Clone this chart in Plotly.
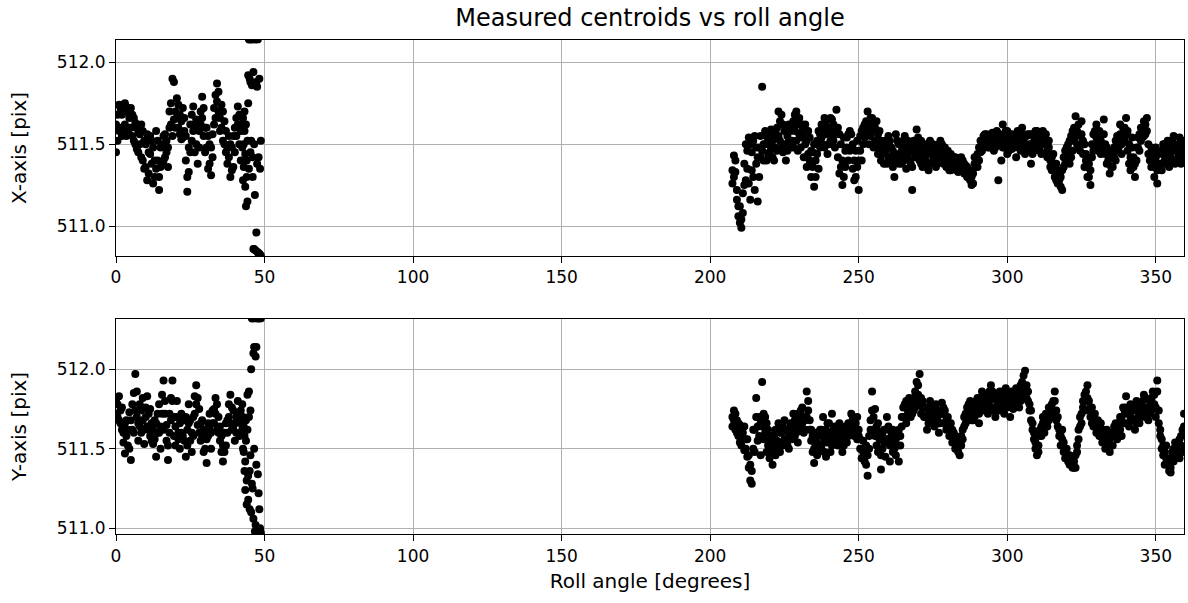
import plotly.graph_objects as go

# Roll angles [degrees] – first visit (0-49 deg)
roll_a = [
    0.0, 0.5, 1.0, 1.5, 2.0, 2.5, 3.0, 3.5, 4.0, 4.5,
    5.0, 5.5, 6.0, 6.5, 7.0, 7.5, 8.0, 8.5, 9.0, 9.5,
    10.0, 10.5, 11.0, 11.5, 12.0, 12.5, 13.0, 13.5, 14.0, 14.5,
    15.0, 15.5, 16.0, 16.5, 17.0, 17.5, 18.0, 18.5, 19.0, 19.5,
    20.0, 20.5, 21.0, 21.5, 22.0, 22.5, 23.0, 23.5, 24.0, 24.5,
    25.0, 25.5, 26.0, 26.5, 27.0, 27.5, 28.0, 28.5, 29.0, 29.5,
    30.0, 30.5, 31.0, 31.5, 32.0, 32.5, 33.0, 33.5, 34.0, 34.5,
    35.0, 35.5, 36.0, 36.5, 37.0, 37.5, 38.0, 38.5, 39.0, 39.5,
    40.0, 40.5, 41.0, 41.5, 42.0,
    42.5, 42.75, 43.0, 43.25, 43.5, 43.75, 44.0, 44.25, 44.5, 44.75,
    45.0, 45.25, 45.5, 45.75, 46.0, 46.25, 46.5, 46.75, 47.0, 47.25,
    47.5, 47.75, 48.0, 48.25, 48.5, 48.75,
]

# Roll angles [degrees] – second visit (207-360 deg)
roll_b = [
    207.5, 208.0, 208.5, 209.0, 209.5, 210.0, 210.5, 211.0, 211.5, 212.0,
    212.5, 213.0, 213.5, 214.0, 214.5, 215.0, 215.5, 216.0, 216.5, 217.0,
    217.5, 218.0, 218.5, 219.0, 219.5, 220.0, 220.5, 221.0, 221.5, 222.0,
    222.5, 223.0, 223.5, 224.0, 224.5, 225.0, 225.5, 226.0, 226.5, 227.0,
    227.5, 228.0, 228.5, 229.0, 229.5, 230.0, 230.5, 231.0, 231.5, 232.0,
    232.5, 233.0, 233.5, 234.0, 234.5, 235.0, 235.5, 236.0, 236.5, 237.0,
    237.5, 238.0, 238.5, 239.0, 239.5, 240.0, 240.5, 241.0, 241.5, 242.0,
    242.5, 243.0, 243.5, 244.0, 244.5, 245.0, 245.5, 246.0, 246.5, 247.0,
    247.5, 248.0, 248.5, 249.0, 249.5, 250.0, 250.5, 251.0, 251.5, 252.0,
    252.5, 253.0, 253.5, 254.0, 254.5, 255.0, 255.5, 256.0, 256.5, 257.0,
    257.5, 258.0, 258.5, 259.0, 259.5, 260.0, 260.5, 261.0, 261.5, 262.0,
    262.5, 263.0, 263.5, 264.0, 264.5, 265.0, 265.5, 266.0, 266.5, 267.0,
    267.5, 268.0, 268.5, 269.0, 269.5, 270.0, 270.5, 271.0, 271.5, 272.0,
    272.5, 273.0, 273.5, 274.0, 274.5, 275.0, 275.5, 276.0, 276.5, 277.0,
    277.5, 278.0, 278.5, 279.0, 279.5, 280.0, 280.5, 281.0, 281.5, 282.0,
    282.5, 283.0, 283.5, 284.0, 284.5, 285.0, 285.5, 286.0, 286.5, 287.0,
    287.5, 288.0, 288.5, 289.0, 289.5, 290.0, 290.5, 291.0, 291.5, 292.0,
    292.5, 293.0, 293.5, 294.0, 294.5, 295.0, 295.5, 296.0, 296.5, 297.0,
    297.5, 298.0, 298.5, 299.0, 299.5, 300.0, 300.5, 301.0, 301.5, 302.0,
    302.5, 303.0, 303.5, 304.0, 304.5, 305.0, 305.5, 306.0, 306.5, 307.0,
    307.5, 308.0, 308.5, 309.0, 309.5, 310.0, 310.5, 311.0, 311.5, 312.0,
    312.5, 313.0, 313.5, 314.0, 314.5, 315.0, 315.5, 316.0, 316.5, 317.0,
    317.5, 318.0, 318.5, 319.0, 319.5, 320.0, 320.5, 321.0, 321.5, 322.0,
    322.5, 323.0, 323.5, 324.0, 324.5, 325.0, 325.5, 326.0, 326.5, 327.0,
    327.5, 328.0, 328.5, 329.0, 329.5, 330.0, 330.5, 331.0, 331.5, 332.0,
    332.5, 333.0, 333.5, 334.0, 334.5, 335.0, 335.5, 336.0, 336.5, 337.0,
    337.5, 338.0, 338.5, 339.0, 339.5, 340.0, 340.5, 341.0, 341.5, 342.0,
    342.5, 343.0, 343.5, 344.0, 344.5, 345.0, 345.5, 346.0, 346.5, 347.0,
    347.5, 348.0, 348.5, 349.0, 349.5, 350.0, 350.5, 351.0, 351.5, 352.0,
    352.5, 353.0, 353.5, 354.0, 354.5, 355.0, 355.5, 356.0, 356.5, 357.0,
    357.5, 358.0, 358.5, 359.0, 359.5,
]

# Measured X centroid [pix], exposure 1
x_cen_a1 = [
    511.45, 511.68, 511.58, 511.72, 511.55, 511.74, 511.62, 511.70, 511.57, 511.66,
    511.60, 511.68, 511.52, 511.63, 511.47, 511.58, 511.50, 511.42, 511.58, 511.35,
    511.50, 511.28, 511.45, 511.55, 511.38, 511.48, 511.30, 511.58, 511.40, 511.22,
    511.36, 511.50, 511.40, 511.56, 511.45, 511.36, 511.60, 511.75, 511.55, 511.88,
    511.70, 511.78, 511.60, 511.68, 511.53, 511.72, 511.58, 511.40, 511.21, 511.33,
    511.62, 511.52, 511.73, 511.45, 511.65, 511.38, 511.58, 511.70, 511.79, 511.55,
    511.45, 511.60, 511.35, 511.50, 511.31, 511.42, 511.62, 511.80, 511.87, 511.70,
    511.58, 511.74, 511.52, 511.64, 511.45, 511.38, 511.55, 511.30, 511.48, 511.36,
    511.60, 511.66, 511.73, 511.50, 511.40,
    511.62, 511.28, 511.50, 511.70, 511.24, 511.12, 511.40, 511.15, 511.92, 511.35,
    512.14, 511.88, 511.52, 512.14, 511.30, 511.94, 510.86, 511.19, 512.14, 510.96,
    511.85, 510.84, 511.42, 510.83, 511.35, 510.82,
]
x_cen_b1 = [
    511.26, 511.43, 511.33, 511.22, 511.12, 511.02, 510.99, 511.08, 511.25, 511.50,
    511.35, 511.54, 511.16, 511.45, 511.30, 511.55, 511.38, 511.15, 511.48, 511.42,
    511.85, 511.50, 511.58, 511.40, 511.52, 511.45, 511.59, 511.42, 511.55, 511.48,
    511.60, 511.70, 511.52, 511.68, 511.45, 511.58, 511.40, 511.55, 511.62, 511.48,
    511.52, 511.64, 511.58, 511.70, 511.46, 511.66, 511.54, 511.62, 511.42, 511.50,
    511.36, 511.58, 511.40, 511.30, 511.45, 511.24, 511.40, 511.52, 511.35, 511.48,
    511.62, 511.50, 511.66, 511.56, 511.44, 511.60, 511.52, 511.65, 511.52, 511.58,
    511.71, 511.42, 511.56, 511.36, 511.25, 511.30, 511.46, 511.54, 511.40, 511.58,
    511.48, 511.35, 511.40, 511.30, 511.52, 511.22, 511.46, 511.58, 511.50, 511.62,
    511.56, 511.70, 511.62, 511.55, 511.66, 511.48, 511.60, 511.52, 511.44, 511.58,
    511.40, 511.50, 511.45, 511.52, 511.38, 511.55, 511.42, 511.48, 511.36, 511.30,
    511.44, 511.52, 511.38, 511.50, 511.46, 511.40, 511.55, 511.35, 511.42, 511.48,
    511.38, 511.22, 511.45, 511.50, 511.59, 511.44, 511.40, 511.52, 511.36, 511.46,
    511.40, 511.48, 511.34, 511.44, 511.38, 511.50, 511.42, 511.36, 511.46, 511.40,
    511.52, 511.44, 511.38, 511.48, 511.42, 511.36, 511.40, 511.34, 511.42, 511.38,
    511.36, 511.40, 511.33, 511.38, 511.35, 511.40, 511.32, 511.37, 511.30, 511.34,
    511.28, 511.25, 511.32, 511.38, 511.42, 511.36, 511.40, 511.45, 511.50, 511.55,
    511.52, 511.56, 511.48, 511.54, 511.50, 511.57, 511.46, 511.52, 511.55, 511.28,
    511.50, 511.40, 511.62, 511.48, 511.58, 511.44, 511.52, 511.56, 511.47, 511.54,
    511.54, 511.42, 511.58, 511.50, 511.46, 511.60, 511.52, 511.44, 511.55, 511.48,
    511.50, 511.38, 511.56, 511.46, 511.52, 511.58, 511.48, 511.55, 511.44, 511.52,
    511.56, 511.50, 511.46, 511.52, 511.40, 511.34, 511.44, 511.30, 511.38, 511.26,
    511.32, 511.24, 511.22, 511.36, 511.46, 511.42, 511.50, 511.38, 511.55, 511.46,
    511.52, 511.67, 511.58, 511.48, 511.55, 511.64, 511.44, 511.50, 511.40, 511.36,
    511.30, 511.25, 511.42, 511.56, 511.50, 511.62, 511.46, 511.58, 511.52, 511.48,
    511.65, 511.50, 511.38, 511.46, 511.32, 511.42, 511.36, 511.48, 511.40, 511.55,
    511.48, 511.56, 511.44, 511.60, 511.52, 511.66, 511.58, 511.50, 511.42, 511.54,
    511.36, 511.30, 511.40, 511.48, 511.56, 511.52, 511.60, 511.55, 511.62, 511.66,
    511.50, 511.44, 511.36, 511.46, 511.30, 511.42, 511.26, 511.38, 511.45, 511.34,
    511.50, 511.40, 511.44, 511.52, 511.36, 511.48, 511.40, 511.55, 511.38, 511.46,
    511.42, 511.54, 511.38, 511.48, 511.44,
]

# Measured X centroid [pix], exposure 2
x_cen_a2 = [
    511.62, 511.52, 511.74, 511.60, 511.68, 511.58, 511.75, 511.55, 511.72, 511.60,
    511.72, 511.55, 511.66, 511.50, 511.60, 511.45, 511.56, 511.62, 511.40, 511.52,
    511.36, 511.56, 511.32, 511.44, 511.52, 511.26, 511.40, 511.35, 511.52, 511.30,
    511.48, 511.38, 511.55, 511.42, 511.52, 511.48, 511.70, 511.62, 511.90, 511.65,
    511.60, 511.66, 511.74, 511.56, 511.64, 511.54, 511.66, 511.55, 511.30, 511.48,
    511.45, 511.68, 511.58, 511.62, 511.50, 511.60, 511.48, 511.62, 511.66, 511.72,
    511.60, 511.48, 511.55, 511.38, 511.48, 511.56, 511.72, 511.66, 511.76, 511.82,
    511.66, 511.60, 511.70, 511.50, 511.58, 511.48, 511.42, 511.50, 511.34, 511.55,
    511.45, 511.55, 511.62, 511.68, 511.58,
    511.48, 511.66, 511.36, 511.58, 511.44, 511.62, 511.30, 511.52, 511.75, 512.14,
    511.90, 511.45, 512.14, 511.86, 511.42, 510.86, 511.50, 512.14, 510.85, 511.88,
    511.38, 512.14, 510.83, 511.90, 510.82, 511.52,
]
x_cen_b2 = [
    511.34, 511.30, 511.40, 511.16, 511.06, 511.12, 511.04, 511.20, 511.38, 511.28,
    511.46, 511.26, 511.50, 511.34, 511.52, 511.22, 511.48, 511.42, 511.30, 511.55,
    511.46, 511.40, 511.50, 511.55, 511.44, 511.56, 511.48, 511.52, 511.40, 511.58,
    511.46, 511.55, 511.64, 511.48, 511.62, 511.50, 511.60, 511.46, 511.52, 511.58,
    511.60, 511.48, 511.68, 511.52, 511.62, 511.56, 511.48, 511.58, 511.54, 511.62,
    511.52, 511.44, 511.54, 511.46, 511.36, 511.50, 511.30, 511.44, 511.58, 511.56,
    511.54, 511.60, 511.48, 511.64, 511.58, 511.50, 511.66, 511.56, 511.62, 511.48,
    511.56, 511.60, 511.32, 511.50, 511.40, 511.54, 511.36, 511.48, 511.56, 511.46,
    511.56, 511.50, 511.28, 511.46, 511.36, 511.40, 511.55, 511.40, 511.60, 511.54,
    511.64, 511.58, 511.50, 511.66, 511.58, 511.62, 511.52, 511.64, 511.56, 511.48,
    511.52, 511.44, 511.38, 511.46, 511.50, 511.42, 511.52, 511.38, 511.46, 511.42,
    511.56, 511.40, 511.50, 511.44, 511.38, 511.52, 511.44, 511.48, 511.52, 511.40,
    511.46, 511.36, 511.52, 511.42, 511.48, 511.54, 511.46, 511.38, 511.50, 511.42,
    511.50, 511.36, 511.46, 511.52, 511.44, 511.40, 511.48, 511.44, 511.38, 511.50,
    511.42, 511.50, 511.46, 511.40, 511.36, 511.46, 511.34, 511.44, 511.38, 511.42,
    511.42, 511.34, 511.40, 511.36, 511.42, 511.34, 511.38, 511.32, 511.36, 511.30,
    511.34, 511.30, 511.26, 511.42, 511.36, 511.44, 511.48, 511.52, 511.46, 511.50,
    511.56, 511.50, 511.55, 511.48, 511.56, 511.52, 511.54, 511.48, 511.58, 511.50,
    511.56, 511.52, 511.48, 511.56, 511.52, 511.58, 511.46, 511.50, 511.56, 511.50,
    511.48, 511.56, 511.50, 511.56, 511.54, 511.48, 511.56, 511.50, 511.46, 511.56,
    511.56, 511.50, 511.44, 511.54, 511.58, 511.50, 511.56, 511.46, 511.54, 511.58,
    511.50, 511.56, 511.42, 511.48, 511.36, 511.42, 511.36, 511.34, 511.28, 511.34,
    511.28, 511.30, 511.34, 511.42, 511.38, 511.48, 511.44, 511.52, 511.42, 511.58,
    511.60, 511.56, 511.50, 511.62, 511.46, 511.56, 511.52, 511.36, 511.44, 511.30,
    511.38, 511.34, 511.50, 511.46, 511.58, 511.54, 511.52, 511.50, 511.44, 511.56,
    511.56, 511.44, 511.48, 511.40, 511.44, 511.36, 511.46, 511.42, 511.52, 511.46,
    511.54, 511.62, 511.50, 511.54, 511.60, 511.56, 511.46, 511.38, 511.34, 511.48,
    511.42, 511.38, 511.48, 511.54, 511.46, 511.60, 511.54, 511.64, 511.56, 511.58,
    511.44, 511.40, 511.48, 511.40, 511.36, 511.48, 511.34, 511.44, 511.38, 511.46,
    511.44, 511.50, 511.38, 511.46, 511.50, 511.42, 511.52, 511.46, 511.48, 511.40,
    511.50, 511.44, 511.50, 511.40, 511.52,
]

# Measured Y centroid [pix], exposure 1
y_cen_a1 = [
    511.80, 511.70, 511.83, 511.66, 511.76, 511.60, 511.47, 511.68, 511.52, 511.73,
    511.43, 511.62, 511.85, 511.97, 511.70, 511.55, 511.78, 511.60, 511.82, 511.53,
    511.70, 511.83, 511.62, 511.75, 511.55, 511.53, 511.68, 511.45, 511.60, 511.78,
    511.50, 511.72, 511.93, 511.80, 511.65, 511.43, 511.60, 511.82, 511.93, 511.70,
    511.52, 511.80, 511.60, 511.50, 511.72, 511.58, 511.68, 511.45, 511.62, 511.78,
    511.55, 511.48, 511.70, 511.83, 511.90, 511.65, 511.75, 511.55, 511.68, 511.48,
    511.60, 511.41, 511.58, 511.72, 511.50, 511.66, 511.75, 511.82, 511.62, 511.70,
    511.55, 511.48, 511.42, 511.60, 511.52, 511.68, 511.78, 511.84, 511.62, 511.74,
    511.55, 511.70, 511.80, 511.58, 511.66,
    511.78, 511.50, 511.64, 511.36, 511.24, 511.55, 511.15, 511.84, 511.33, 511.70,
    511.12, 511.46, 512.00, 511.28, 512.32, 511.06, 512.14, 510.98, 512.08, 511.40,
    512.32, 510.97, 511.22, 512.32, 511.00, 510.97,
]
y_cen_b1 = [
    511.70, 511.74, 511.62, 511.68, 511.58, 511.65, 511.52, 511.60, 511.49, 511.56,
    511.45, 511.38, 511.30, 511.28, 511.50, 511.62, 511.82, 511.55, 511.70, 511.46,
    511.92, 511.72, 511.60, 511.66, 511.52, 511.44, 511.58, 511.40, 511.50, 511.62,
    511.55, 511.66, 511.48, 511.60, 511.52, 511.68, 511.56, 511.62, 511.50, 511.58,
    511.64, 511.72, 511.58, 511.66, 511.54, 511.70, 511.62, 511.76, 511.60, 511.68,
    511.86, 511.74, 511.62, 511.55, 511.48, 511.41, 511.52, 511.46, 511.58, 511.50,
    511.62, 511.70, 511.55, 511.45, 511.66, 511.58, 511.48, 511.72, 511.56, 511.64,
    511.60, 511.52, 511.66, 511.56, 511.48, 511.62, 511.58, 511.54, 511.66, 511.60,
    511.64, 511.70, 511.58, 511.66, 511.56, 511.62, 511.50, 511.44, 511.55, 511.48,
    511.40, 511.33, 511.58, 511.68, 511.86, 511.62, 511.75, 511.52, 511.66, 511.56,
    511.37, 511.50, 511.62, 511.45, 511.70, 511.56, 511.42, 511.60, 511.48, 511.54,
    511.46, 511.58, 511.42, 511.52, 511.64, 511.70, 511.78, 511.66, 511.74, 511.82,
    511.70, 511.78, 511.74, 511.86, 511.80, 511.90, 511.97, 511.82, 511.76, 511.70,
    511.76, 511.62, 511.72, 511.80, 511.68, 511.74, 511.64, 511.78, 511.70, 511.60,
    511.72, 511.79, 511.66, 511.74, 511.62, 511.70, 511.58, 511.66, 511.54, 511.60,
    511.50, 511.56, 511.48, 511.46, 511.52, 511.62, 511.70, 511.66, 511.76, 511.72,
    511.80, 511.74, 511.68, 511.78, 511.72, 511.82, 511.66, 511.76, 511.86, 511.80,
    511.84, 511.78, 511.72, 511.86, 511.90, 511.76, 511.82, 511.70, 511.80, 511.74,
    511.86, 511.78, 511.82, 511.72, 511.88, 511.76, 511.84, 511.70, 511.80, 511.75,
    511.82, 511.88, 511.78, 511.86, 511.80, 511.92, 511.84, 511.99, 511.90, 511.80,
    511.74, 511.68, 511.62, 511.56, 511.50, 511.46, 511.52, 511.58, 511.64, 511.70,
    511.60, 511.66, 511.72, 511.68, 511.76, 511.70, 511.80, 511.86, 511.74, 511.64,
    511.58, 511.52, 511.62, 511.48, 511.44, 511.50, 511.42, 511.46, 511.40, 511.38,
    511.42, 511.38, 511.48, 511.56, 511.64, 511.72, 511.80, 511.74, 511.86, 511.90,
    511.80, 511.70, 511.76, 511.64, 511.72, 511.60, 511.68, 511.58, 511.66, 511.54,
    511.56, 511.50, 511.62, 511.54, 511.48, 511.60, 511.52, 511.58, 511.66, 511.56,
    511.62, 511.70, 511.58, 511.76, 511.66, 511.83, 511.72, 511.64, 511.78, 511.68,
    511.74, 511.62, 511.80, 511.70, 511.66, 511.78, 511.72, 511.84, 511.70, 511.76,
    511.68, 511.80, 511.74, 511.86, 511.78, 511.70, 511.93, 511.66, 511.58, 511.50,
    511.46, 511.40, 511.52, 511.44, 511.36, 511.35, 511.48, 511.42, 511.54, 511.46,
    511.50, 511.44, 511.58, 511.48, 511.72,
]

# Measured Y centroid [pix], exposure 2
y_cen_a2 = [
    511.72, 511.78, 511.68, 511.74, 511.62, 511.54, 511.66, 511.58, 511.62, 511.50,
    511.68, 511.78, 511.60, 511.74, 511.86, 511.66, 511.64, 511.74, 511.68, 511.62,
    511.76, 511.64, 511.72, 511.58, 511.66, 511.62, 511.56, 511.66, 511.72, 511.60,
    511.64, 511.84, 511.62, 511.72, 511.55, 511.52, 511.72, 511.68, 511.80, 511.58,
    511.64, 511.70, 511.56, 511.66, 511.60, 511.68, 511.55, 511.70, 511.52, 511.66,
    511.68, 511.60, 511.58, 511.72, 511.78, 511.82, 511.60, 511.66, 511.58, 511.62,
    511.50, 511.56, 511.66, 511.62, 511.60, 511.74, 511.66, 511.72, 511.78, 511.60,
    511.64, 511.58, 511.52, 511.48, 511.66, 511.60, 511.70, 511.66, 511.76, 511.64,
    511.66, 511.60, 511.72, 511.68, 511.74,
    511.62, 511.70, 511.48, 511.58, 511.42, 511.68, 511.30, 511.62, 511.18, 511.86,
    511.36, 511.74, 511.10, 512.32, 511.25, 512.10, 511.50, 512.32, 511.02, 512.14,
    510.98, 511.34, 512.32, 511.12, 510.98, 512.32,
]
y_cen_b2 = [
    511.64, 511.68, 511.72, 511.60, 511.66, 511.54, 511.62, 511.56, 511.64, 511.50,
    511.56, 511.46, 511.40, 511.36, 511.62, 511.48, 511.70, 511.64, 511.58, 511.66,
    511.64, 511.56, 511.70, 511.48, 511.62, 511.56, 511.48, 511.54, 511.58, 511.46,
    511.62, 511.52, 511.60, 511.54, 511.64, 511.56, 511.62, 511.52, 511.60, 511.66,
    511.56, 511.62, 511.68, 511.60, 511.72, 511.64, 511.74, 511.66, 511.70, 511.62,
    511.70, 511.80, 511.68, 511.62, 511.58, 511.50, 511.60, 511.54, 511.48, 511.62,
    511.52, 511.58, 511.48, 511.62, 511.54, 511.66, 511.60, 511.52, 511.62, 511.56,
    511.54, 511.62, 511.58, 511.64, 511.56, 511.52, 511.64, 511.60, 511.58, 511.66,
    511.72, 511.62, 511.68, 511.60, 511.70, 511.58, 511.56, 511.50, 511.48, 511.42,
    511.52, 511.46, 511.50, 511.62, 511.74, 511.70, 511.58, 511.64, 511.48, 511.60,
    511.46, 511.58, 511.54, 511.62, 511.56, 511.64, 511.52, 511.56, 511.62, 511.50,
    511.56, 511.52, 511.62, 511.58, 511.70, 511.76, 511.70, 511.80, 511.70, 511.76,
    511.80, 511.72, 511.82, 511.76, 511.92, 511.84, 511.78, 511.72, 511.80, 511.76,
    511.70, 511.76, 511.66, 511.74, 511.78, 511.66, 511.72, 511.68, 511.74, 511.66,
    511.66, 511.72, 511.76, 511.66, 511.70, 511.64, 511.66, 511.60, 511.62, 511.56,
    511.58, 511.50, 511.54, 511.52, 511.58, 511.56, 511.64, 511.72, 511.70, 511.78,
    511.74, 511.68, 511.76, 511.70, 511.80, 511.76, 511.72, 511.82, 511.78, 511.74,
    511.78, 511.84, 511.76, 511.80, 511.82, 511.86, 511.74, 511.84, 511.76, 511.82,
    511.80, 511.74, 511.86, 511.80, 511.76, 511.84, 511.78, 511.80, 511.86, 511.82,
    511.76, 511.84, 511.82, 511.76, 511.90, 511.84, 511.96, 511.86, 511.82, 511.86,
    511.78, 511.74, 511.66, 511.60, 511.54, 511.52, 511.48, 511.62, 511.58, 511.66,
    511.66, 511.72, 511.64, 511.76, 511.70, 511.78, 511.74, 511.80, 511.68, 511.70,
    511.62, 511.58, 511.56, 511.54, 511.50, 511.44, 511.46, 511.40, 511.44, 511.42,
    511.38, 511.46, 511.52, 511.62, 511.70, 511.66, 511.76, 511.84, 511.80, 511.82,
    511.74, 511.76, 511.66, 511.70, 511.66, 511.64, 511.60, 511.64, 511.58, 511.62,
    511.60, 511.56, 511.54, 511.60, 511.56, 511.52, 511.58, 511.64, 511.58, 511.62,
    511.66, 511.62, 511.70, 511.66, 511.74, 511.76, 511.66, 511.72, 511.70, 511.74,
    511.68, 511.76, 511.66, 511.76, 511.72, 511.70, 511.80, 511.76, 511.82, 511.72,
    511.76, 511.72, 511.82, 511.78, 511.84, 511.76, 511.86, 511.74, 511.62, 511.56,
    511.52, 511.48, 511.44, 511.40, 511.42, 511.38, 511.44, 511.50, 511.46, 511.52,
    511.46, 511.56, 511.52, 511.62, 511.64,
]

x_ticks = [0, 50, 100, 150, 200, 250, 300, 350]
y_ticks = [511.0, 511.5, 512.0]
y_tick_labels = ["511.0", "511.5", "512.0"]

roll = roll_a + roll_b
x_cen_1 = x_cen_a1 + x_cen_b1
x_cen_2 = x_cen_a2 + x_cen_b2
y_cen_1 = y_cen_a1 + y_cen_b1
y_cen_2 = y_cen_a2 + y_cen_b2

FONT = "DejaVu Sans"
marker = dict(color="black", size=8, line=dict(width=0))

fig = go.Figure()
for ys, xa, ya in [(x_cen_1, "x", "y"), (x_cen_2, "x", "y"),
                   (y_cen_1, "x2", "y2"), (y_cen_2, "x2", "y2")]:
    fig.add_trace(go.Scatter(x=roll, y=ys, mode="markers", marker=marker,
                             xaxis=xa, yaxis=ya, showlegend=False))

common = dict(
    showline=True, mirror=True, linecolor="black", linewidth=1.2,
    ticks="outside", ticklen=6, tickwidth=1.2, tickcolor="black",
    showgrid=True, gridcolor="#b0b0b0", gridwidth=1.2, zeroline=False,
    tickfont=dict(family=FONT, size=17, color="black"),
)
title_font = dict(family=FONT, size=20, color="black")

fig.update_layout(
    width=1188, height=603,
    margin=dict(l=116, r=4, t=40, b=69),
    paper_bgcolor="white", plot_bgcolor="white",
    font=dict(family=FONT, color="black"),
    title=dict(text="Measured centroids vs roll angle", x=0.5, xref="paper",
               xanchor="center", y=1 - 18 / 603, yanchor="middle",
               font=dict(family=FONT, size=24, color="black")),
    xaxis=dict(domain=[0, 1], anchor="y", range=[0, 359.5],
               tickvals=x_ticks, **common),
    yaxis=dict(domain=[0.5628, 1], anchor="x", range=[510.817, 512.136],
               tickvals=y_ticks, ticktext=y_tick_labels,
               title=dict(text="X-axis [pix]", standoff=24, font=title_font),
               **common),
    xaxis2=dict(domain=[0, 1], anchor="y2", range=[0, 359.5],
                tickvals=x_ticks,
                title=dict(text="Roll angle [degrees]", standoff=9,
                           font=title_font),
                **common),
    yaxis2=dict(domain=[0, 0.4352], anchor="x2", range=[510.964, 512.316],
                tickvals=y_ticks, ticktext=y_tick_labels,
                title=dict(text="Y-axis [pix]", standoff=24, font=title_font),
                **common),
)

fig.write_html("out.html")
